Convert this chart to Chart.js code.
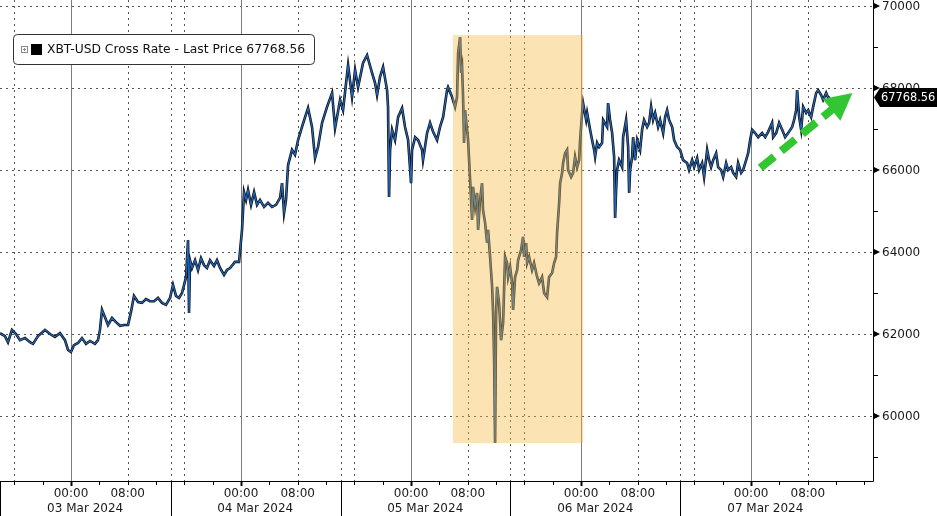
<!DOCTYPE html>
<html><head><meta charset="utf-8">
<script src="https://cdn.jsdelivr.net/npm/chart.js@4/dist/chart.umd.min.js"></script>
<style>html,body{margin:0;padding:0;background:#fff;overflow:hidden}#wrap{width:937px;height:516px;position:relative}</style>
</head><body><div id="wrap"><canvas id="c" width="937" height="516"></canvas></div>
<script>
// hours since 03 Mar 2024 00:00
const hours = [
-10.02,-9.32,-8.89,-8.33,-7.76,-7.20,-6.49,-5.79,-5.36,-4.66,-3.67,-2.96,-2.26,-1.55,-0.85,-0.42,0,0.42,0.99,1.55,2.12,2.68,3.39,3.81,4.09,4.38,4.80,5.22,5.79,6.35,6.92,7.48,8.05,8.47,8.89,9.46,10.02,10.59,11.15,11.72,12.28,12.85,13.41,13.98,14.40,14.82,15.25,15.67,16.24,16.52,16.66,16.80,17.08,17.51,17.93,18.35,18.78,19.20,19.62,20.19,20.61,21.04,21.60,22.02,22.45,
23.15,23.72,24.14,24.42,24.71,24.99,25.41,25.84,26.26,26.68,27.25,27.81,28.38,28.94,29.51,29.79,30.07,30.35,30.64,31.20,31.62,32.05,32.61,33.04,33.46,34.02,34.45,34.87,35.44,36.14,36.85,37.27,37.98,38.40,39.11,39.67,40.10,40.52,41.22,41.79,42.49,42.92,43.20,43.62,44.05,44.61,44.75,44.89,45.04,45.32,45.74,46.17,46.73,47.15,47.58,48.00,48.14,48.57,48.99,49.55,49.69,50.26,50.68,51.11,51.67,52.09,52.52,53.08,
53.22,53.79,54.21,54.49,54.64,54.92,55.06,55.20,55.34,55.48,55.62,56.05,56.33,56.61,56.75,57.04,57.32,57.46,57.74,58.02,58.16,58.45,58.73,58.87,59.15,59.44,59.58,59.72,59.86,60.00,60.14,60.42,60.71,60.99,61.27,61.55,61.70,61.98,62.26,62.40,62.68,62.97,63.11,63.53,63.81,63.95,64.24,64.38,64.66,65.08,65.36,65.79,66.07,66.49,66.78,67.20,67.48,67.91,68.19,68.47,68.61,68.90,69.04,69.32,69.46,69.74,70.02,70.16,70.59,70.87,71.15,71.44,71.72,71.86,72.14,72.28,72.71,72.85,73.27,73.55,73.84,73.98,74.26,74.54,
74.96,75.11,75.67,75.81,76.09,76.38,76.66,76.80,76.94,77.08,77.36,77.79,77.93,78.35,78.64,78.78,78.92,79.20,79.34,79.62,79.91,80.33,80.61,80.89,81.32,81.60,81.88,82.16,82.45,82.87,83.15,83.58,83.86,84.14,84.42,84.85,85.13,85.55,85.98,86.40,86.96,87.24,87.67,87.95,88.38,88.66,89.08,89.36,89.79,90.07,90.35,90.64,91.06,91.34,91.76,92.05,92.47,92.75,93.18,93.46,93.88,94.16,94.59,94.87,95.29,95.58,95.86,96.14,96.56,96.99,97.55,97.98,98.40,98.96,99.11,99.53,99.95,100.38,100.80,101.22,101.79,102.07,102.35,102.49,102.78,103.06,103.34,103.77,104.05,104.47,104.75,105.18,105.46,105.88,106.16,106.59,106.87,107.15
];
const prices = [
62020,61950,61800,62100,62000,61850,61900,61800,61760,61950,62100,62000,61930,62020,61850,61610,61560,61730,61780,61900,61760,61830,61760,61850,62100,62590,62410,62220,62390,62290,62200,62220,62220,62540,62930,62780,62760,62850,62800,62800,62880,62760,62710,62880,63200,62930,62880,63000,63390,64290,62510,63800,63610,63800,63560,63850,63680,63610,63800,63660,63800,63610,63440,63560,63610,
63760,63760,64540,65460,65270,65510,65150,65460,65150,65270,65100,65200,65100,65150,65320,65680,64950,65270,66120,66490,66370,66730,67050,67290,67510,67050,66290,66560,67150,67540,67880,67020,67710,67460,68560,67780,68440,68020,68610,68800,68370,68120,67830,68270,68510,67950,67540,65340,66490,66980,66730,67290,67510,67050,66730,65680,66490,66800,66730,66490,66240,66900,67150,66930,66730,67050,67290,67950,
68020,67780,67540,67780,68850,69240,68370,68510,67780,66660,67460,66730,65760,64780,65590,65100,65440,64540,65270,65680,65020,64710,64220,64540,63880,63150,62510,61370,59340,62510,63150,62760,61850,62270,63880,63730,63390,63630,63240,62590,63390,63560,63800,64050,64370,63880,64220,63730,63880,63560,63730,63390,63240,63390,63000,62900,63390,63490,63730,63880,64460,65200,65680,65930,66170,66410,66490,66000,65830,65930,66320,66070,66240,66730,67390,67630,67220,67390,66980,66730,66490,66320,66660,66560,
66660,67220,67050,67630,67220,66900,66320,64830,65510,66000,66240,66070,66800,67220,66560,65440,66000,66320,66800,66240,66730,66490,66980,67220,67050,67150,67540,67220,67390,67050,67220,66900,67290,67460,67220,67050,66730,66560,66490,66240,66170,66000,66240,66070,66290,66000,66170,65830,66490,66240,66070,66240,66410,66070,66000,65830,66170,66000,66070,65930,65830,66170,65930,66000,66240,66410,66730,66980,66900,66800,66900,66800,66930,67150,66800,66900,67150,66980,66800,66900,67050,67220,67460,67950,67290,66980,67540,67390,67460,67290,67540,67880,67950,67830,67710,67880,67760,67768.56
];
const lastPrice = 67768.56;
const seriesName = 'XBT-USD Cross Rate - Last Price';
const yTicks = [60000,62000,64000,66000,68000,70000];
const yMinorTicks = [59000,61000,63000,65000,67000,69000];
const dayStarts = [0,24,48,72,96];
const timeTicks = [0,8,24,32,48,56,72,80,96,104];
const timeLabels = ['00:00','08:00','00:00','08:00','00:00','08:00','00:00','08:00','00:00','08:00'];
const dateLabels = ['03 Mar 2024','04 Mar 2024','05 Mar 2024','06 Mar 2024','07 Mar 2024'];
const dateLabelHours = [2,26,50,74,98];
const dateSeparators = [14.1,38.1,62,86];
const dottedHours = [-8,8,16,32,40,56,64,80,88,104];
const highlight = {h0:53.9, h1:72.3, p0:59340, p1:69290};
const arrow = {h0:97.3, p0:66050, h1:110.3, p1:67880};

const FONT = '"DejaVu Sans", Verdana, sans-serif';
const pts = hours.map((h,i)=>({x:h,y:prices[i]}));

const overlay = {
  id:'overlay',
  beforeDatasetsDraw(chart){
    const {ctx, chartArea:a, scales:{x,y}} = chart;
    ctx.save();
    ctx.lineWidth = 1;
    ctx.strokeStyle = '#555';
    ctx.setLineDash([2,4]);
    yTicks.forEach(v=>{
      const py = Math.round(y.getPixelForValue(v))+0.5;
      ctx.beginPath(); ctx.moveTo(a.left,py); ctx.lineTo(a.right,py); ctx.stroke();
    });
    dottedHours.concat(dateSeparators).forEach(h=>{
      const px = Math.round(x.getPixelForValue(h))+0.5;
      ctx.beginPath(); ctx.moveTo(px,a.top); ctx.lineTo(px,a.bottom); ctx.stroke();
    });
    ctx.setLineDash([]);
    ctx.strokeStyle = '#7d7d7d';
    dayStarts.forEach(h=>{
      const px = Math.round(x.getPixelForValue(h))+0.5;
      ctx.beginPath(); ctx.moveTo(px,a.top); ctx.lineTo(px,a.bottom); ctx.stroke();
    });
    ctx.restore();
  },
  afterDatasetsDraw(chart){
    const {ctx, chartArea:a, scales:{x,y}} = chart;
    const W = chart.width, H = chart.height;
    ctx.save();
    // highlight box
    const bx0 = x.getPixelForValue(highlight.h0), bx1 = x.getPixelForValue(highlight.h1);
    const by0 = y.getPixelForValue(highlight.p1), by1 = y.getPixelForValue(highlight.p0);
    ctx.fillStyle = 'rgba(245,185,67,0.4)';
    ctx.fillRect(bx0,by0,bx1-bx0,by1-by0);

    // axes
    ctx.strokeStyle = '#000'; ctx.lineWidth = 1;
    ctx.beginPath();
    ctx.moveTo(a.right+0.5,0); ctx.lineTo(a.right+0.5,a.bottom+0.5);
    ctx.moveTo(0,a.bottom+0.5); ctx.lineTo(a.right+0.5,a.bottom+0.5);
    ctx.moveTo(0.5,a.bottom); ctx.lineTo(0.5,H);
    dateSeparators.forEach(h=>{
      const px = Math.round(x.getPixelForValue(h))+0.5;
      ctx.moveTo(px,a.bottom); ctx.lineTo(px,H);
    });
    ctx.stroke();
    // x minor ticks
    for (let h=-8; h<=112; h+=4){
      const px = Math.round(x.getPixelForValue(h))+0.5;
      const major = dayStarts.includes(h);
      ctx.lineWidth = major?2:1;
      ctx.beginPath(); ctx.moveTo(px,a.bottom); ctx.lineTo(px,a.bottom+(major?5:4)); ctx.stroke();
    }
    ctx.lineWidth = 1;
    // x labels
    ctx.fillStyle = '#1a1a1a';
    ctx.font = '12px '+FONT;
    ctx.textAlign = 'center'; ctx.textBaseline = 'middle';
    timeTicks.forEach((h,i)=>ctx.fillText(timeLabels[i], x.getPixelForValue(h), a.bottom+13));
    dateLabelHours.forEach((h,i)=>ctx.fillText(dateLabels[i], x.getPixelForValue(h), a.bottom+28));

    // y ticks
    yMinorTicks.forEach(v=>{
      const py = Math.round(y.getPixelForValue(v))+0.5;
      ctx.beginPath(); ctx.moveTo(a.right,py); ctx.lineTo(a.right+5,py); ctx.stroke();
    });
    ctx.fillStyle = '#000';
    yTicks.forEach(v=>{
      const py = y.getPixelForValue(v);
      ctx.beginPath(); ctx.moveTo(a.right,py-3.5); ctx.lineTo(a.right+7,py); ctx.lineTo(a.right,py+3.5); ctx.closePath(); ctx.fill();
    });
    ctx.fillStyle = '#1a1a1a';
    ctx.textAlign = 'left';
    yTicks.forEach(v=>ctx.fillText(String(v), a.right+9, y.getPixelForValue(v)+0.5));

    // last price tag
    const lp = y.getPixelForValue(lastPrice);
    ctx.fillStyle = '#000';
    ctx.beginPath();
    ctx.moveTo(a.right+1,lp); ctx.lineTo(a.right+7,lp-9.5); ctx.lineTo(W,lp-9.5); ctx.lineTo(W,lp+9.5); ctx.lineTo(a.right+7,lp+9.5); ctx.closePath(); ctx.fill();
    ctx.fillStyle = '#fff';
    ctx.font = '11.4px '+FONT;
    ctx.fillText(lastPrice.toFixed(2), a.right+8, lp+0.5);

    // green dashed arrow
    const ax0 = x.getPixelForValue(arrow.h0), ay0 = y.getPixelForValue(arrow.p0);
    const ax1 = x.getPixelForValue(arrow.h1), ay1 = y.getPixelForValue(arrow.p1);
    const dx = ax1-ax0, dy = ay1-ay0, L = Math.hypot(dx,dy), ux = dx/L, uy = dy/L;
    const headL = 27, headW = 14;
    const bxc = ax1-ux*headL, byc = ay1-uy*headL;
    ctx.strokeStyle = '#33c633'; ctx.fillStyle = '#33c633';
    ctx.lineWidth = 8; ctx.setLineDash([18,9]); ctx.lineCap = 'butt';
    ctx.beginPath(); ctx.moveTo(ax0,ay0); ctx.lineTo(bxc+ux*2,byc+uy*2); ctx.stroke();
    ctx.setLineDash([]);
    ctx.beginPath();
    ctx.moveTo(ax1,ay1);
    ctx.lineTo(bxc-uy*headW, byc+ux*headW);
    ctx.lineTo(bxc+uy*headW, byc-ux*headW);
    ctx.closePath(); ctx.fill();

    // legend
    ctx.lineWidth = 1;
    ctx.fillStyle = '#fff'; ctx.strokeStyle = '#333';
    ctx.beginPath(); ctx.roundRect(13.5,34.5,301,30,4); ctx.fill(); ctx.stroke();
    ctx.strokeStyle = '#888';
    ctx.strokeRect(21.5,46.5,6,6);
    ctx.beginPath(); ctx.moveTo(23,49.5); ctx.lineTo(26,49.5); ctx.moveTo(24.5,48); ctx.lineTo(24.5,51); ctx.stroke();
    ctx.fillStyle = '#000'; ctx.fillRect(31,44,11,11);
    ctx.fillStyle = '#111';
    ctx.font = '12.3px '+FONT;
    ctx.textAlign = 'left'; ctx.textBaseline = 'middle';
    ctx.fillText(seriesName+' '+lastPrice.toFixed(2), 47, 50);
    ctx.restore();
  }
};

new Chart(document.getElementById('c'), {
  type:'line',
  data:{datasets:[
    {data:pts, borderColor:'#2166b8', borderWidth:1.2, pointRadius:0, tension:0},
    {data:pts, borderColor:'#0d0d0d', borderWidth:2.6, pointRadius:0, tension:0}
  ]},
  options:{
    responsive:false, animation:false, devicePixelRatio:1,
    layout:{padding:{left:0,right:64,top:0,bottom:35}},
    plugins:{legend:{display:false}, tooltip:{enabled:false}},
    scales:{
      x:{type:'linear', min:-10.02, max:113.2, display:false},
      y:{type:'linear', min:58415, max:70146, display:false}
    }
  },
  plugins:[overlay]
});
</script></body></html>
